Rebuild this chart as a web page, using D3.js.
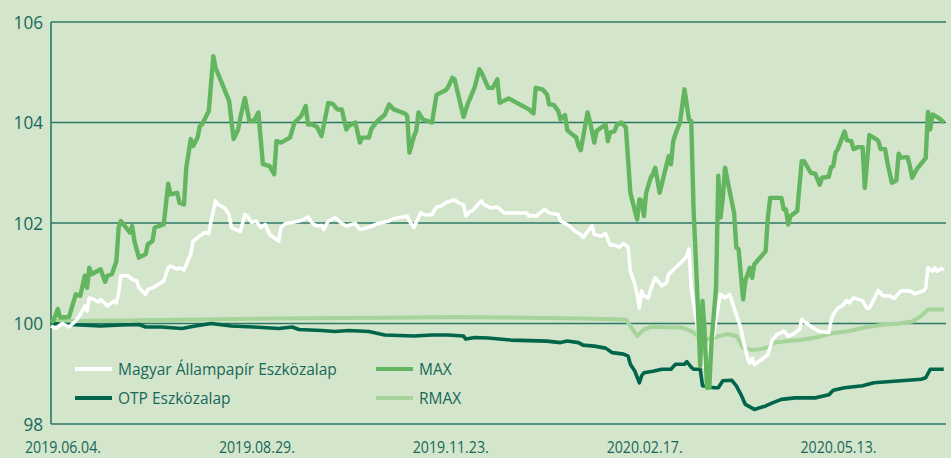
<!DOCTYPE html>
<html><head><meta charset="utf-8">
<script src="https://cdn.jsdelivr.net/npm/d3@7"></script>
<style>
html,body{margin:0;padding:0;background:#d3e5cb;}
svg{display:block;font-family:"Open Sans",sans-serif;}
</style></head>
<body><svg id="chart" width="951" height="458"></svg>
<script>
// ---- data (day offset from 2019.06.04, value) ----
const tickLabels = ["2019.06.04.","2019.08.29.","2019.11.23.","2020.02.17.","2020.05.13."];
const tickDays = [0,86,172,258,344];
const yTicks = [98,100,102,104,106];

const maxData = [[0,100.02],[1,100.05],[3,100.29],[4,100.12],[8,100.13],[11,100.58],[13,100.55],[15,100.95],[16,100.71],[17,101.11],[18,100.98],[22,101.08],[24,100.83],[25,100.95],[27,100.98],[29,101.24],[30,101.91],[31,102.04],[35,101.81],[36,101.94],[37,101.64],[39,101.31],[42,101.38],[43,101.58],[45,101.64],[46,101.91],[50,101.97],[52,102.78],[53,102.57],[56,102.60],[57,102.40],[59,102.37],[60,103.10],[62,103.67],[63,103.53],[65,103.70],[66,103.93],[67,103.96],[70,104.23],[72,105.32],[73,105.09],[79,104.43],[81,103.67],[83,103.86],[84,104.10],[86,104.49],[88,104.03],[90,104.03],[92,104.20],[94,103.17],[97,103.13],[99,102.97],[100,103.63],[102,103.60],[106,103.70],[108,104.00],[111,104.13],[113,104.33],[114,103.96],[116,103.96],[118,103.91],[120,103.73],[123,104.39],[125,104.37],[127,104.26],[129,104.26],[131,103.86],[132,103.93],[135,104.00],[137,103.60],[138,103.70],[141,103.70],[142,103.86],[143,103.93],[145,104.04],[148,104.15],[150,104.36],[152,104.26],[157,104.18],[158,104.13],[159,103.40],[161,103.73],[162,103.83],[163,104.20],[165,104.06],[167,104.03],[169,104.00],[171,104.55],[175,104.64],[176,104.69],[178,104.89],[179,104.86],[183,104.11],[185,104.39],[186,104.49],[188,104.71],[190,105.06],[191,104.99],[192,104.89],[194,104.69],[196,104.69],[198,104.86],[199,104.39],[203,104.48],[212,104.26],[214,104.18],[215,104.69],[218,104.66],[220,104.56],[221,104.36],[223,104.35],[225,104.23],[226,104.06],[228,104.15],[229,103.85],[231,103.77],[233,103.70],[234,103.53],[235,103.45],[238,104.20],[239,104.03],[241,103.60],[242,103.83],[246,103.96],[247,103.63],[248,103.80],[250,103.83],[251,103.95],[253,104.00],[255,103.90],[257,102.60],[260,102.07],[261,102.47],[262,102.45],[263,102.14],[264,102.60],[266,102.90],[267,102.97],[268,103.10],[270,102.60],[272,102.97],[274,103.33],[275,103.17],[276,103.63],[277,103.77],[279,104.00],[281,104.66],[282,104.36],[283,104.06],[284,104.03],[285,102.30],[286,101.31],[287,100.25],[288,99.15],[289,100.45],[290,99.79],[291,98.72],[292,98.72],[293,99.65],[295,100.71],[296,102.94],[297,102.11],[298,102.50],[299,103.10],[301,102.64],[303,102.20],[304,101.51],[305,101.48],[307,100.48],[308,100.85],[310,101.11],[311,100.91],[312,101.18],[317,101.44],[318,102.11],[319,102.50],[322,102.50],[324,102.50],[325,102.27],[326,102.27],[327,101.97],[328,102.14],[331,102.24],[333,103.23],[334,103.23],[337,103.00],[339,102.98],[341,102.76],[342,102.90],[345,102.92],[346,103.11],[347,103.13],[348,103.40],[349,103.47],[352,103.82],[353,103.65],[355,103.63],[356,103.47],[358,103.51],[360,103.51],[361,102.70],[363,103.75],[366,103.67],[367,103.63],[368,103.47],[370,103.47],[371,103.20],[373,102.80],[375,102.85],[376,103.38],[377,103.30],[380,103.31],[381,103.13],[382,102.90],[384,103.07],[388,103.29],[389,104.21],[390,103.86],[391,104.16],[394,104.08],[396,104.00]];

const allampapirData = [[0,99.95],[2,99.90],[5,100.00],[8,99.93],[11,100.05],[13,100.18],[15,100.35],[16,100.25],[17,100.51],[19,100.48],[21,100.43],[22,100.48],[25,100.35],[28,100.45],[29,100.41],[30,100.61],[31,100.95],[34,100.95],[36,100.88],[38,100.85],[39,100.71],[42,100.58],[43,100.68],[46,100.73],[50,100.85],[52,101.11],[53,101.14],[56,101.08],[57,101.11],[59,101.06],[61,101.28],[62,101.38],[63,101.64],[65,101.71],[67,101.77],[68,101.81],[70,101.79],[71,102.04],[73,102.44],[74,102.37],[77,102.30],[79,102.17],[80,101.91],[82,101.87],[84,101.83],[86,102.17],[87,102.14],[89,102.01],[91,102.04],[93,101.91],[95,101.97],[97,101.77],[101,101.64],[102,101.91],[104,101.99],[107,102.01],[110,102.04],[112,102.07],[114,102.12],[116,101.99],[118,101.94],[120,101.95],[121,101.87],[123,102.04],[126,102.11],[129,101.99],[131,101.94],[135,101.99],[137,101.87],[139,101.89],[142,101.93],[145,101.99],[150,102.04],[152,102.09],[155,102.11],[158,102.14],[159,102.04],[161,101.91],[162,102.01],[164,102.20],[166,102.16],[169,102.17],[171,102.32],[173,102.34],[175,102.40],[178,102.45],[179,102.46],[181,102.40],[183,102.36],[184,102.14],[186,102.24],[187,102.24],[190,102.40],[191,102.44],[192,102.37],[195,102.30],[198,102.32],[201,102.20],[211,102.20],[212,102.14],[214,102.15],[215,102.13],[217,102.20],[219,102.27],[221,102.20],[225,102.17],[226,102.04],[228,101.99],[230,101.94],[232,101.85],[235,101.77],[236,101.71],[238,101.83],[240,101.94],[241,101.77],[244,101.74],[246,101.79],[248,101.56],[250,101.56],[252,101.52],[254,101.59],[256,101.52],[257,101.04],[259,100.78],[260,100.58],[261,100.31],[262,100.65],[263,100.55],[265,100.51],[266,100.68],[268,100.91],[271,100.75],[273,100.81],[274,100.98],[277,101.11],[280,101.24],[282,101.34],[283,101.48],[284,100.71],[287,99.85],[289,99.15],[291,99.45],[294,99.78],[295,100.11],[297,100.58],[299,100.51],[301,100.58],[303,100.31],[306,99.91],[307,99.68],[309,99.31],[310,99.21],[311,99.31],[312,99.18],[316,99.31],[318,99.38],[320,99.68],[322,99.78],[325,99.85],[327,99.75],[329,99.78],[332,99.88],[333,100.08],[335,100.01],[338,99.91],[341,99.84],[345,99.82],[346,100.05],[347,100.18],[349,100.31],[351,100.35],[353,100.46],[354,100.41],[356,100.51],[360,100.45],[362,100.30],[363,100.31],[365,100.48],[367,100.66],[369,100.55],[372,100.55],[374,100.50],[377,100.65],[381,100.65],[383,100.59],[387,100.65],[388,100.70],[389,101.11],[391,101.04],[392,101.11],[393,101.04],[395,101.10],[396,101.06]];

const otpData = [[0,100.00],[8,99.98],[13,99.97],[22,99.95],[31,99.97],[39,99.98],[42,99.93],[49,99.93],[58,99.90],[64,99.95],[71,100.00],[80,99.95],[90,99.93],[101,99.90],[107,99.93],[110,99.88],[120,99.86],[126,99.84],[132,99.86],[141,99.84],[148,99.77],[161,99.75],[169,99.77],[176,99.77],[183,99.75],[184,99.69],[188,99.72],[194,99.71],[204,99.67],[212,99.66],[220,99.65],[226,99.62],[229,99.65],[234,99.62],[236,99.57],[241,99.55],[246,99.51],[249,99.42],[254,99.39],[256,99.35],[257,99.19],[259,99.05],[261,98.82],[262,98.96],[263,99.02],[267,99.05],[271,99.09],[275,99.09],[277,99.19],[281,99.19],[282,99.24],[284,99.13],[285,99.09],[288,99.09],[289,98.76],[294,98.72],[296,98.72],[298,98.86],[302,98.87],[304,98.76],[306,98.59],[308,98.39],[310,98.34],[312,98.29],[317,98.36],[320,98.42],[324,98.49],[330,98.52],[339,98.52],[345,98.58],[347,98.67],[352,98.72],[360,98.76],[365,98.82],[371,98.84],[380,98.87],[386,98.89],[388,98.92],[390,99.09],[396,99.09]];

const rmaxData = [[0,100.05],[30,100.06],[66,100.08],[100,100.10],[130,100.11],[160,100.12],[180,100.13],[200,100.12],[236,100.10],[255,100.08],[257,99.95],[260,99.75],[263,99.88],[266,99.93],[269,99.93],[280,99.92],[284,99.85],[287,99.75],[291,99.69],[294,99.72],[300,99.79],[304,99.75],[307,99.52],[311,99.47],[315,99.49],[318,99.53],[321,99.62],[327,99.65],[332,99.67],[339,99.72],[346,99.80],[354,99.85],[361,99.92],[368,99.97],[376,100.00],[382,100.04],[386,100.15],[389,100.28],[396,100.28]];

const seriesNames = ["Magyar Állampapír Eszközalap","OTP Eszközalap","MAX","RMAX"];

// ---- layout ----
const svg = d3.select("#chart");
const L = 51, R = 946, T = 22, B = 424;
const x = d3.scaleLinear().domain([0,397]).range([L,R]);
const y = d3.scaleLinear().domain([98,106]).range([B,T]);
const teal = "#2c7866", textCol = "#17685a";

svg.append("rect").attr("width",951).attr("height",458).attr("fill","#d3e5cb");

// gridlines
svg.append("g").selectAll("line").data(yTicks).join("line")
  .attr("x1",L).attr("x2",R).attr("y1",d=>y(d)).attr("y2",d=>y(d))
  .attr("stroke",teal).attr("stroke-width",1.6);
svg.append("line").attr("x1",L).attr("x2",L).attr("y1",T).attr("y2",B)
  .attr("stroke",teal).attr("stroke-width",1.6);

// y labels
svg.append("g").selectAll("text").data(yTicks).join("text")
  .attr("x",43).attr("y",d=>y(d)).attr("dy","0.36em").attr("text-anchor","end")
  .attr("font-size",19).attr("fill",textCol)
  .attr("textLength",d=>String(d).length*9.8).attr("lengthAdjust","spacingAndGlyphs")
  .text(d=>d);

// x labels
svg.append("g").selectAll("text").data(tickDays).join("text")
  .attr("x",d=>x(d)-26).attr("y",453)
  .attr("font-size",15.5).attr("fill",textCol)
  .attr("textLength",76).attr("lengthAdjust","spacingAndGlyphs")
  .text((d,i)=>tickLabels[i]);

const line = d3.line().x(d=>x(d[0])).y(d=>y(d[1]));
const styles = [
  {data: rmaxData, color:"#a6d49b", w:4},
  {data: otpData, color:"#00654a", w:3.6},
  {data: allampapirData, color:"#ffffff", w:3.6},
  {data: maxData, color:"#63b55f", w:4.4}
];
styles.forEach(s=>{
  svg.append("path").datum(s.data).attr("d",line).attr("fill","none")
    .attr("stroke",s.color).attr("stroke-width",s.w)
    .attr("stroke-linejoin","round").attr("stroke-linecap","butt");
});

// legend
const legend = [
  {name:seriesNames[0], color:"#ffffff", lx:75, ly:369},
  {name:seriesNames[1], color:"#00654a", lx:75, ly:398},
  {name:seriesNames[2], color:"#63b55f", lx:376, ly:369},
  {name:seriesNames[3], color:"#a6d49b", lx:376, ly:398}
];
const lg = svg.append("g");
legend.forEach(e=>{
  lg.append("line").attr("x1",e.lx).attr("x2",e.lx+37).attr("y1",e.ly).attr("y2",e.ly)
    .attr("stroke",e.color).attr("stroke-width",4);
  lg.append("text").attr("x",e.lx+43).attr("y",e.ly).attr("dy","0.36em")
    .attr("font-size",15.5).attr("fill",textCol).text(e.name);
});
</script></body></html>
